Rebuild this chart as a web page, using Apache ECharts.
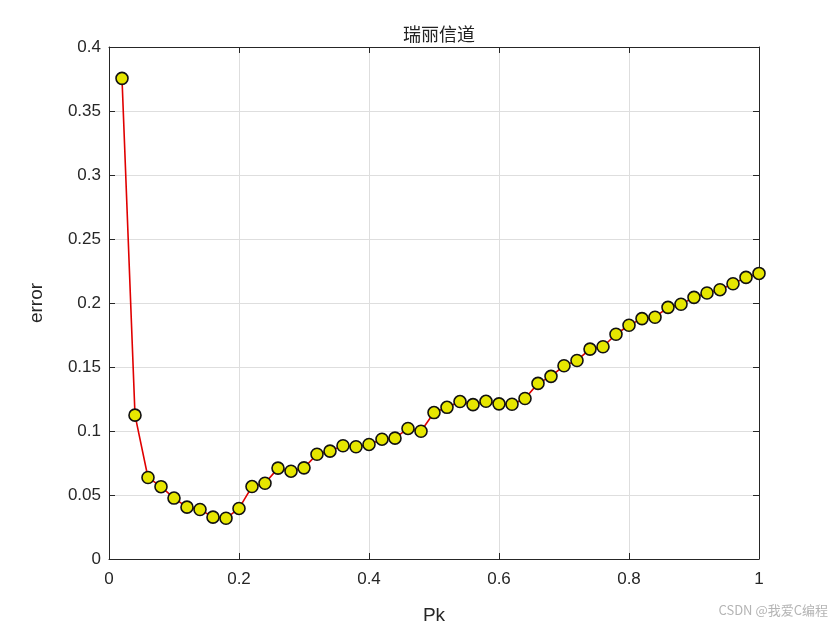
<!DOCTYPE html>
<html>
<head>
<meta charset="utf-8">
<script src="https://cdn.jsdelivr.net/npm/echarts@6/dist/echarts.min.js"></script>
<style>html,body{margin:0;padding:0;background:#fff;}#c{width:840px;height:630px;}</style>
</head>
<body>
<div id="c"></div>
<script>
const pk = [0.02,0.04,0.06,0.08,0.10,0.12,0.14,0.16,0.18,0.20,
            0.22,0.24,0.26,0.28,0.30,0.32,0.34,0.36,0.38,0.40,
            0.42,0.44,0.46,0.48,0.50,0.52,0.54,0.56,0.58,0.60,
            0.62,0.64,0.66,0.68,0.70,0.72,0.74,0.76,0.78,0.80,
            0.82,0.84,0.86,0.88,0.90,0.92,0.94,0.96,0.98,1.00];
const errorValues = [0.3755,0.1124,0.0637,0.0565,0.0476,0.0405,0.0387,0.0327,0.0318,0.0395,
                     0.0566,0.0592,0.0710,0.0686,0.0712,0.0818,0.0843,0.0885,0.0877,0.0895,
                     0.0936,0.0944,0.1020,0.0998,0.1144,0.1185,0.1230,0.1206,0.1232,0.1212,
                     0.1209,0.1254,0.1372,0.1427,0.1510,0.1551,0.1640,0.1658,0.1756,0.1826,
                     0.1878,0.1889,0.1966,0.1990,0.2044,0.2078,0.2104,0.2150,0.2200,0.2231];
const xTicks = {min:0, max:1, interval:0.2};
const yTicks = {min:0, max:0.4, interval:0.05};
const titleText = '瑞丽信道';
const xName = 'Pk';
const yName = 'error';
const watermark = 'CSDN @我爱C编程';

const chart = echarts.init(document.getElementById('c'), null, {renderer:'canvas'});
const axisLineStyle = {color:'#262626', width:1};
const latinFont = '"Liberation Sans", Arial, sans-serif';
const labelStyle = {color:'#262626', fontSize:17, fontFamily:latinFont};
chart.setOption({
  animation:false,
  backgroundColor:'#fff',
  title:{text:titleText, left:434, top:20, textAlign:'center',
         textStyle:{fontSize:18, fontWeight:'normal', color:'#222', fontFamily:'"Noto Sans CJK SC", sans-serif'}},
  grid:{left:109, right:81, top:47, bottom:69, containLabel:false},
  xAxis:[{
    type:'value', min:xTicks.min, max:xTicks.max, interval:xTicks.interval, position:'bottom',
    name:xName, nameLocation:'middle', nameGap:47,
    nameTextStyle:{fontSize:19, color:'#262626', fontFamily:latinFont},
    axisLine:{show:true, onZero:false, lineStyle:axisLineStyle},
    axisTick:{show:true, inside:true, length:6, lineStyle:axisLineStyle},
    axisLabel:Object.assign({margin:12}, labelStyle),
    splitLine:{show:true, lineStyle:{color:'#dedede', width:1}}
  },{
    type:'value', min:xTicks.min, max:xTicks.max, interval:xTicks.interval, position:'top',
    axisLine:{show:true, onZero:false, lineStyle:axisLineStyle},
    axisTick:{show:true, inside:true, length:6, lineStyle:axisLineStyle},
    axisLabel:{show:false}, splitLine:{show:false}
  }],
  yAxis:[{
    type:'value', min:yTicks.min, max:yTicks.max, interval:yTicks.interval, position:'left',
    name:yName, nameLocation:'middle', nameGap:63, nameRotate:90,
    nameTextStyle:{fontSize:19, color:'#262626', fontFamily:latinFont},
    axisLine:{show:true, onZero:false, lineStyle:axisLineStyle},
    axisTick:{show:true, inside:true, length:6, lineStyle:axisLineStyle},
    axisLabel:Object.assign({margin:8}, labelStyle),
    splitLine:{show:true, lineStyle:{color:'#dedede', width:1}}
  },{
    type:'value', min:yTicks.min, max:yTicks.max, interval:yTicks.interval, position:'right',
    axisLine:{show:true, onZero:false, lineStyle:axisLineStyle},
    axisTick:{show:true, inside:true, length:6, lineStyle:axisLineStyle},
    axisLabel:{show:false}, splitLine:{show:false}
  }],
  series:[{
    type:'line',
    data:pk.map((x,i)=>[x, errorValues[i]]),
    xAxisIndex:0, yAxisIndex:0,
    symbol:'circle', symbolSize:12,
    lineStyle:{color:'#e00000', width:1.6},
    itemStyle:{color:'#e6e600', borderColor:'#111', borderWidth:1.6},
    z:5
  }],
  graphic:[{
    type:'text', right:12, top:604,
    style:{text:watermark, fill:'#b4b4b4', fontSize:13, fontFamily:'"Noto Sans CJK SC", sans-serif'}
  }]
});
</script>
</body>
</html>
